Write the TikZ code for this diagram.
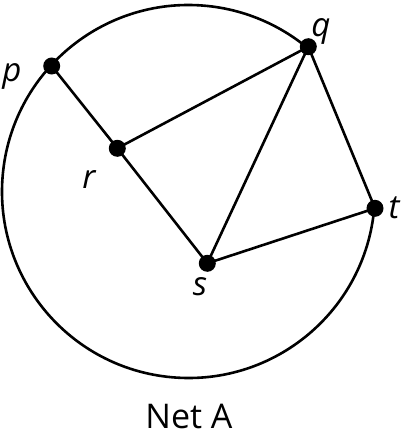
\documentclass[tikz,border=0pt]{standalone}
\usepackage{fontspec}
\setmainfont{Open Sans}
\begin{document}
\begin{tikzpicture}[x=1pt,y=-1pt,
  edge/.style={line width=2.6pt},
  vtx/.style={circle,fill=black,inner sep=0pt,minimum size=17pt},
  lbl/.style={font=\fontsize{33}{33}\selectfont\itshape,inner sep=0pt}]
\useasboundingbox (0,0) rectangle (402,444);
\coordinate (c) at (188.5,191.5);
\draw[edge] (c) ++(5.1:186.5) arc[start angle=5.1, end angle=309.6, radius=186.5];
\node[vtx] (p) at (51.7,66) {};
\node[vtx] (q) at (308.3,46.7) {};
\node[vtx] (r) at (117.3,148.3) {};
\node[vtx] (s) at (207.3,263.3) {};
\node[vtx] (t) at (375,208.3) {};
\draw[edge] (p.center) -- (r.center) -- (s.center) -- (t.center) -- (q.center) -- (r.center);
\draw[edge] (q.center) -- (s.center);
\node[lbl] (lp) at (12,76) {p};
\node[lbl] (lq) at (321,31) {q};
\node[lbl] (lr) at (89,180) {r};
\node[lbl] (ls) at (200,287) {s};
\node[lbl] (lt) at (394,208) {t};
\node[font=\fontsize{34}{34}\selectfont,inner sep=0pt] (title) at (189,416) {Net A};
\end{tikzpicture}
\end{document}
